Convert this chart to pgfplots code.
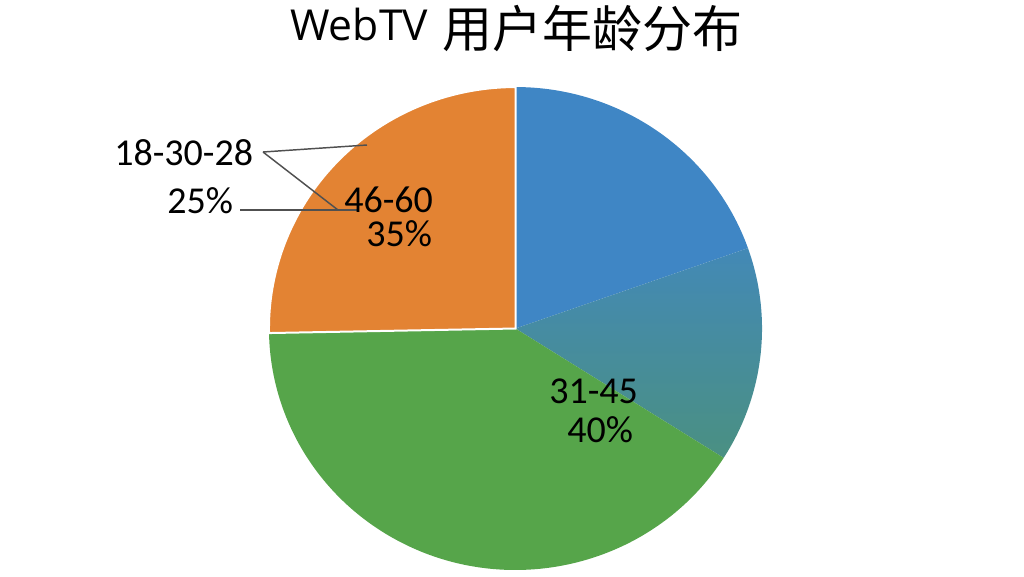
\documentclass[border=0pt]{standalone}
\usepackage{fontspec}
\setmainfont{Carlito}
\newfontfamily\cjk{Noto Sans CJK SC}
\newfontfamily\titlefont{Open Sans}
\usepackage{pgfplots}
\pgfplotsset{compat=1.18}

\definecolor{cblue}{HTML}{3F86C5}
\definecolor{ctealA}{HTML}{4389B6}
\definecolor{ctealB}{HTML}{4A9082}
\definecolor{cgreen}{HTML}{56A54A}
\definecolor{corange}{HTML}{E38333}
\definecolor{lead}{HTML}{505050}

% slice shares in percent, clockwise from 12 o'clock
\def\pBlue{19.6}
\def\pTeal{14.4}
\def\pGreen{40.7}
\def\pOrange{25.3}
\pgfmathsetmacro\aA{90}
\pgfmathsetmacro\aB{\aA-3.6*\pBlue}
\pgfmathsetmacro\aC{\aB-3.6*\pTeal}
\pgfmathsetmacro\aD{\aC-3.6*\pGreen}
\pgfmathsetmacro\aE{\aD-3.6*\pOrange}
% pie radii (1 px = 0.75pt)
\def\rx{184.9pt}
\def\ry{181.1pt}
\newcommand\slice[3]{%
  \path[#3] (axis cs:515.5,328.5) -- ++(#1:\rx\space and \ry)
    arc[start angle=#1, end angle=#2, x radius=\rx, y radius=\ry] -- cycle;}

\begin{document}
\begin{tikzpicture}
\begin{axis}[
  width=768pt, height=432pt, scale only axis,
  xmin=0, xmax=1024, ymin=0, ymax=576, y dir=reverse,
  hide axis, clip=false,
]
\coordinate (bl) at (axis cs:0,576);
\coordinate (tr) at (axis cs:1024,0);

\slice{\aA}{\aB}{fill=cblue}
\slice{\aB}{\aC}{top color=ctealA, bottom color=ctealB}
\slice{\aC}{\aD}{fill=cgreen}
\slice{\aD}{\aE}{fill=corange, draw=white, line width=1.5pt}

% leader lines
\draw[lead, line width=1.1pt] (axis cs:263,152) -- (axis cs:367,145);
\draw[lead, line width=1.1pt] (axis cs:263,152) -- (axis cs:338,210);
\draw[lead, line width=1.1pt] (axis cs:240,210) -- (axis cs:357,210);

\begin{scope}[every node/.style={anchor=base west, inner sep=0pt,
    font=\fontsize{28.5}{30}\selectfont}]
\node at (axis cs:114,165) {18-30-28};
\node at (axis cs:167,213) {25\%};
\node at (axis cs:344,212) {46-60};
\node at (axis cs:366,246) {35\%};
\node at (axis cs:549,403) {31-45};
\node at (axis cs:567,442) {40\%};
\end{scope}

\node[anchor=base west, inner sep=0pt, font=\titlefont\fontsize{32}{34}\selectfont]
  at (axis cs:290,40) {WebTV};
\node[anchor=base west, inner sep=0pt, font=\cjk\fontsize{37.5}{40}\selectfont]
  at (axis cs:442,47) {用户年龄分布};
\end{axis}
\pgfresetboundingbox
\path (bl) rectangle (tr);
\end{tikzpicture}
\end{document}
